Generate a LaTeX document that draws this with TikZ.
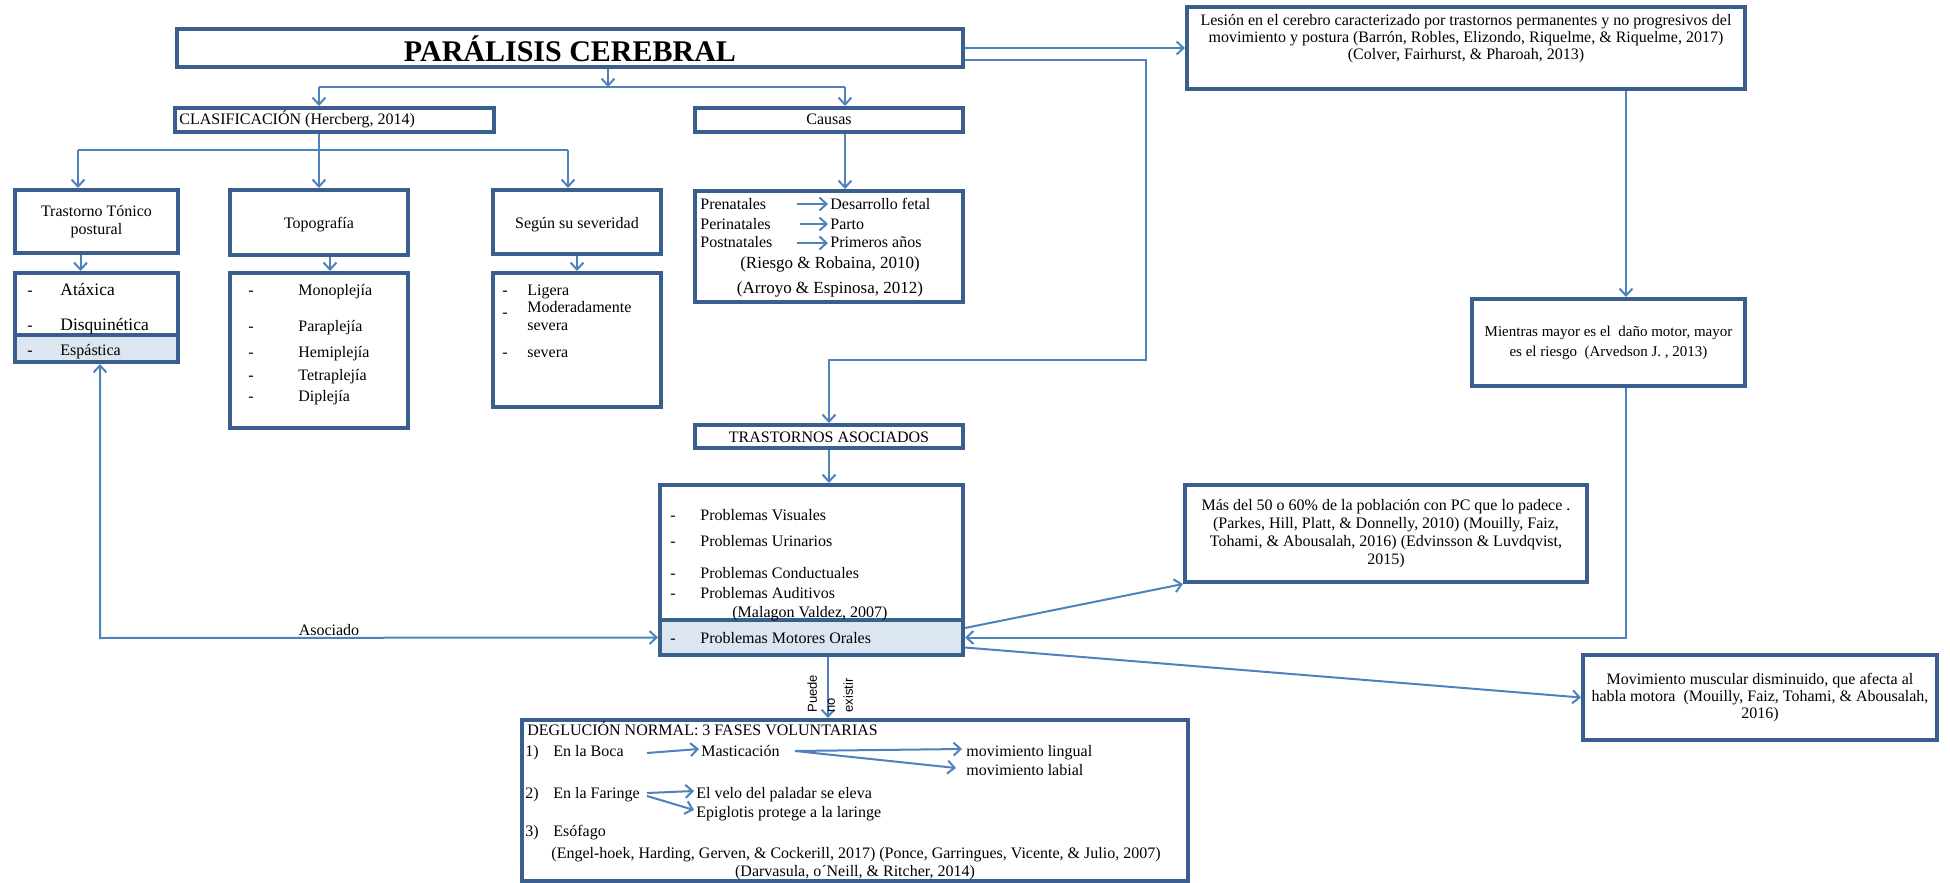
\documentclass[tikz,border=0pt]{standalone}
\usepackage{fontspec}
\setmainfont{Liberation Serif}
\newfontfamily\labelsans{Liberation Sans}
\usetikzlibrary{arrows.meta,fit}

\definecolor{bordc}{HTML}{3A5F8F}
\definecolor{linec}{HTML}{4F81BD}
\definecolor{shadec}{HTML}{DCE6F1}

\newcommand{\fsz}[2]{\fontsize{#1}{#2}\selectfont}

\tikzset{
  panel/.style={draw=bordc, line width=2pt, fill=white, inner sep=0pt, rectangle},
  shaded/.style={fill=shadec},
  txt/.style={inner sep=0pt, text=black, font=\fsz{8}{9.5}},
  wire/.style={draw=linec, line width=1pt},
  linkarrow/.style={wire, -{Straight Barb[length=3.5pt,width=6.5pt]}},
  twoarrow/.style={wire, {Straight Barb[length=3.5pt,width=6.5pt]}-{Straight Barb[length=3.5pt,width=6.5pt]}},
}

\begin{document}
\begin{tikzpicture}[x=0.5pt,y=-0.5pt]
\useasboundingbox (0,0) rectangle (1950,883);

% ---------- boxes ----------
\node[panel, fit={(177,29)(963,67)}] (title) {};
\node[panel, fit={(1187,7)(1745,89)}] (lesion) {};
\node[panel, fit={(175,108)(494,132)}] (clasif) {};
\node[panel, fit={(695,108)(963,132)}] (causas) {};
\node[panel, fit={(15,190)(178,253)}] (tonico) {};
\node[panel, fit={(230,190)(408,255)}] (topo) {};
\node[panel, fit={(493,190)(661,254)}] (sever) {};
\node[panel, fit={(695,191)(963,302)}] (causlist) {};
\node[panel, fit={(15,273)(178,335)}] (tipos) {};
\node[panel, shaded, fit={(15,335)(178,362)}] (espas) {};
\node[panel, fit={(230,273)(408,428)}] (topolist) {};
\node[panel, fit={(493,273)(661,407)}] (severlist) {};
\node[panel, fit={(695,425)(963,448)}] (trast) {};
\node[panel, fit={(660,485)(963,620)}] (probl) {};
\node[panel, shaded, fit={(660,620)(963,655)}] (motores) {};
\node[panel, fit={(1472,299)(1745,386)}] (mientras) {};
\node[panel, fit={(1185,485)(1587,582)}] (mas) {};
\node[panel, fit={(1583,655)(1937,740)}] (movim) {};
\node[panel, fit={(522,720)(1188,881)}] (deglu) {};

% ---------- box captions ----------
\node[txt, font=\fsz{15}{18}\bfseries] (titletxt) at ([yshift=-0.5pt]title.center) {PARÁLISIS CEREBRAL};
\node[txt, align=center, anchor=north, font=\fsz{8}{8.5}] (lesiontxt) at (1466,14)
  {Lesión en el cerebro caracterizado por trastornos permanentes y no progresivos del\\
   movimiento y postura (Barrón, Robles, Elizondo, Riquelme, \& Riquelme, 2017)\\
   (Colver, Fairhurst, \& Pharoah, 2013)};
\node[txt, anchor=base west] (clasiftxt) at (179,125) {CLASIFICACIÓN (Hercberg, 2014)};
\node[txt, anchor=base] (causastxt) at (829,125) {Causas};
\node[txt, align=center, font=\fsz{8}{9}] (tonicotxt) at (tonico.center) {Trastorno Tónico\\postural};
\node[txt, anchor=base] (topotxt) at (319,228) {Topografía};
\node[txt, anchor=base] (severtxt) at (577,228) {Según su severidad};
\node[txt, anchor=base] (trasttxt) at (829,442) {TRASTORNOS ASOCIADOS};
\node[txt, align=center, font=\fsz{7.5}{10}] (mientrastxt) at (mientras.center)
  {Mientras mayor es el\ \ daño motor, mayor\\es el riesgo\ \ (Arvedson J. , 2013)};
\node[txt, align=center, font=\fsz{8}{8.9}] (mastxt) at (mas.center)
  {Más del 50 o 60\% de la población con PC que lo padece .\\
   (Parkes, Hill, Platt, \& Donnelly, 2010) (Mouilly, Faiz,\\
   Tohami, \& Abousalah, 2016) (Edvinsson \& Luvdqvist,\\
   2015)};
\node[txt, align=center, font=\fsz{8}{8.4}] (movimtxt) at (movim.center)
  {Movimiento muscular disminuido, que afecta al\\
   habla motora\ \ (Mouilly, Faiz, Tohami, \& Abousalah,\\
   2016)};

% ---------- list contents ----------
% tono postural
\node[txt, anchor=base west] (da1) at (27,295) {-};
\node[txt, anchor=base west, font=\fsz{8.75}{10}] (atax) at (60,295) {Atáxica};
\node[txt, anchor=base west] (da2) at (27,330) {-};
\node[txt, anchor=base west, font=\fsz{8.75}{10}] (disq) at (60,330) {Disquinética};
\node[txt, anchor=base west] (da3) at (27,355) {-};
\node[txt, anchor=base west] (espt) at (60,355) {Espástica};

% topografia
\node[txt, anchor=base west] (db1) at (248,295) {-};
\node[txt, anchor=base west] (mono) at (298,295) {Monoplejía};
\node[txt, anchor=base west] (db2) at (248,331) {-};
\node[txt, anchor=base west] (para) at (298,331) {Paraplejía};
\node[txt, anchor=base west] (db3) at (248,357) {-};
\node[txt, anchor=base west] (hemi) at (298,357) {Hemiplejía};
\node[txt, anchor=base west] (db4) at (248,380) {-};
\node[txt, anchor=base west] (tetra) at (298,380) {Tetraplejía};
\node[txt, anchor=base west] (db5) at (248,401) {-};
\node[txt, anchor=base west] (dipl) at (298,401) {Diplejía};

% severidad
\node[txt, anchor=base west] (dc1) at (502,295) {-};
\node[txt, anchor=base west] (lig) at (527,295) {Ligera};
\node[txt, anchor=base west] (dc2) at (502,317) {-};
\node[txt, anchor=base west] (mod) at (527,312) {Moderadamente};
\node[txt, anchor=base west] (sev1) at (527,330) {severa};
\node[txt, anchor=base west] (dc3) at (502,357) {-};
\node[txt, anchor=base west] (sev2) at (527,357) {severa};

% causas
\node[txt, anchor=base west] (pre) at (700,209) {Prenatales};
\node[txt, anchor=base west] (peri) at (700,229) {Perinatales};
\node[txt, anchor=base west] (post) at (700,248) {Postnatales};
\node[txt, anchor=base west] (fetal) at (830,209) {Desarrollo fetal};
\node[txt, anchor=base west] (parto) at (830,229) {Parto};
\node[txt, anchor=base west] (anos) at (830,248) {Primeros años};
\node[txt, anchor=base, font=\fsz{8.5}{10}] (cit1) at (830,268) {(Riesgo \& Robaina, 2010)};
\node[txt, anchor=base, font=\fsz{8.5}{10}] (cit2) at (830,293) {(Arroyo \& Espinosa, 2012)};
\coordinate (pre-s) at (797,204);
\coordinate (peri-s) at (800,224);
\coordinate (post-s) at (797,243);

% trastornos asociados
\node[txt, anchor=base west] (dd1) at (670,520) {-};
\node[txt, anchor=base west] (vis) at (700,520) {Problemas Visuales};
\node[txt, anchor=base west] (dd2) at (670,546) {-};
\node[txt, anchor=base west] (uri) at (700,546) {Problemas Urinarios};
\node[txt, anchor=base west] (dd3) at (670,578) {-};
\node[txt, anchor=base west] (cond) at (700,578) {Problemas Conductuales};
\node[txt, anchor=base west] (dd4) at (670,598) {-};
\node[txt, anchor=base west] (aud) at (700,598) {Problemas Auditivos};
\node[txt, anchor=base west] (mala) at (732,617) {(Malagon Valdez, 2007)};
\node[txt, anchor=base west] (dd5) at (670,643) {-};
\node[txt, anchor=base west] (oral) at (700,643) {Problemas Motores Orales};

% deglucion
\node[txt, anchor=base west] (dtit) at (527,735) {DEGLUCIÓN NORMAL: 3 FASES VOLUNTARIAS};
\node[txt, anchor=base west] (n1) at (525,756) {1)};
\node[txt, anchor=base west] (boca) at (553,756) {En la Boca};
\node[txt, anchor=base west] (masti) at (701,756) {Masticación};
\node[txt, anchor=base west] (ling) at (966,756) {movimiento lingual};
\node[txt, anchor=base west] (labi) at (966,775) {movimiento labial};
\node[txt, anchor=base west] (n2) at (525,798) {2)};
\node[txt, anchor=base west] (farin) at (553,798) {En la Faringe};
\node[txt, anchor=base west] (velo) at (696,798) {El velo del paladar se eleva};
\node[txt, anchor=base west] (epig) at (696,817) {Epiglotis protege a la laringe};
\node[txt, anchor=base west] (n3) at (525,836) {3)};
\node[txt, anchor=base west] (esof) at (553,836) {Esófago};
\node[txt, anchor=base] (dcit1) at (856,858) {(Engel-hoek, Harding, Gerven, \& Cockerill, 2017) (Ponce, Garringues, Vicente, \& Julio, 2007)};
\node[txt, anchor=base] (dcit2) at (855,876) {(Darvasula, o´Neill, \& Ritcher, 2014)};
\coordinate (boca-s) at (647,753);
\coordinate (masti-s) at (795,751);
\coordinate (farin-s) at (647,793);
\coordinate (farin-t) at (647,796);

% ---------- connectors ----------
\coordinate (j1) at (608,87);
\coordinate (j1l) at (319,87);
\coordinate (j1r) at (845,87);
\draw[linkarrow] (j1 |- title.south) -- (j1);
\draw[wire] (j1l) -- (j1r);
\draw[linkarrow] (j1l) -- (j1l |- clasif.north);
\draw[linkarrow] (j1r) -- (j1r |- causas.north);

\coordinate (j2) at (319,150);
\coordinate (j2l) at (78,150);
\coordinate (j2r) at (568,150);
\draw[linkarrow] (j2 |- clasif.south) -- (j2 |- topo.north);
\draw[wire] (j2l) -- (j2r);
\draw[linkarrow] (j2l) -- (j2l |- tonico.north);
\draw[linkarrow] (j2r) -- (j2r |- sever.north);
\draw[linkarrow] (causas.south -| j1r) -- (causlist.north -| j1r);

\draw[linkarrow] ([xshift=-8pt]tonico.south) -- ([xshift=-8pt]tipos.north);
\draw[linkarrow] ([xshift=5.5pt]topo.south) -- ([xshift=5.5pt]topolist.north);
\draw[linkarrow] (sever.south) -- (severlist.north);

\draw[linkarrow] (pre-s) -- ([xshift=-1pt]pre-s -| fetal.west);
\draw[linkarrow] (peri-s) -- ([xshift=-1pt]peri-s -| parto.west);
\draw[linkarrow] (post-s) -- ([xshift=-1pt]post-s -| anos.west);

% right-hand chain
\coordinate (k1) at (1146,360);
\draw[linkarrow] (lesion.west -| title.east) -- (lesion.west);
\draw[linkarrow] ([yshift=-6pt]title.east) -| (k1) -| (trast.north);
\coordinate (k2) at (1626,200);
\draw[linkarrow] (k2 |- lesion.south) -- (k2 |- mientras.north);
\draw[linkarrow] (k2 |- mientras.south) |- (motores.east);
\draw[linkarrow] ([yshift=4.75pt]motores.east) -- (mas.south west);
\draw[linkarrow] ([yshift=-5pt]motores.east) -- (movim.west);

\draw[linkarrow] (trast.south) -- (trast.south |- probl.north);

% associated loop back to espastica
\coordinate (k3) at (100,638);
\draw[twoarrow] (k3 |- espas.south) -- (k3) -- (motores.west);
\node[txt, anchor=base] (asoc) at (329,635) {Asociado};

% down to deglucion
\coordinate (k4) at (828,700);
\draw[linkarrow] (k4 |- motores.south) -- (k4 |- deglu.north);
\node[txt, font=\labelsans\fsz{6.5}{9}, rotate=90, anchor=north west, align=left] (puede) at (807,713) {Puede\\no\\existir};

% deglucion arrows
\draw[linkarrow] (boca-s) -- ([xshift=-1pt,yshift=3.5pt]masti.base west);
\draw[linkarrow] (masti-s) -- ([xshift=-2pt,yshift=3.5pt]ling.base west);
\draw[linkarrow] (masti-s) -- ([xshift=-5pt,yshift=3.5pt]labi.base west);
\draw[linkarrow] (farin-s) -- ([xshift=-1pt,yshift=3.5pt]velo.base west);
\draw[linkarrow] (farin-t) -- ([xshift=-1pt,yshift=3.5pt]epig.base west);
\end{tikzpicture}
\end{document}
